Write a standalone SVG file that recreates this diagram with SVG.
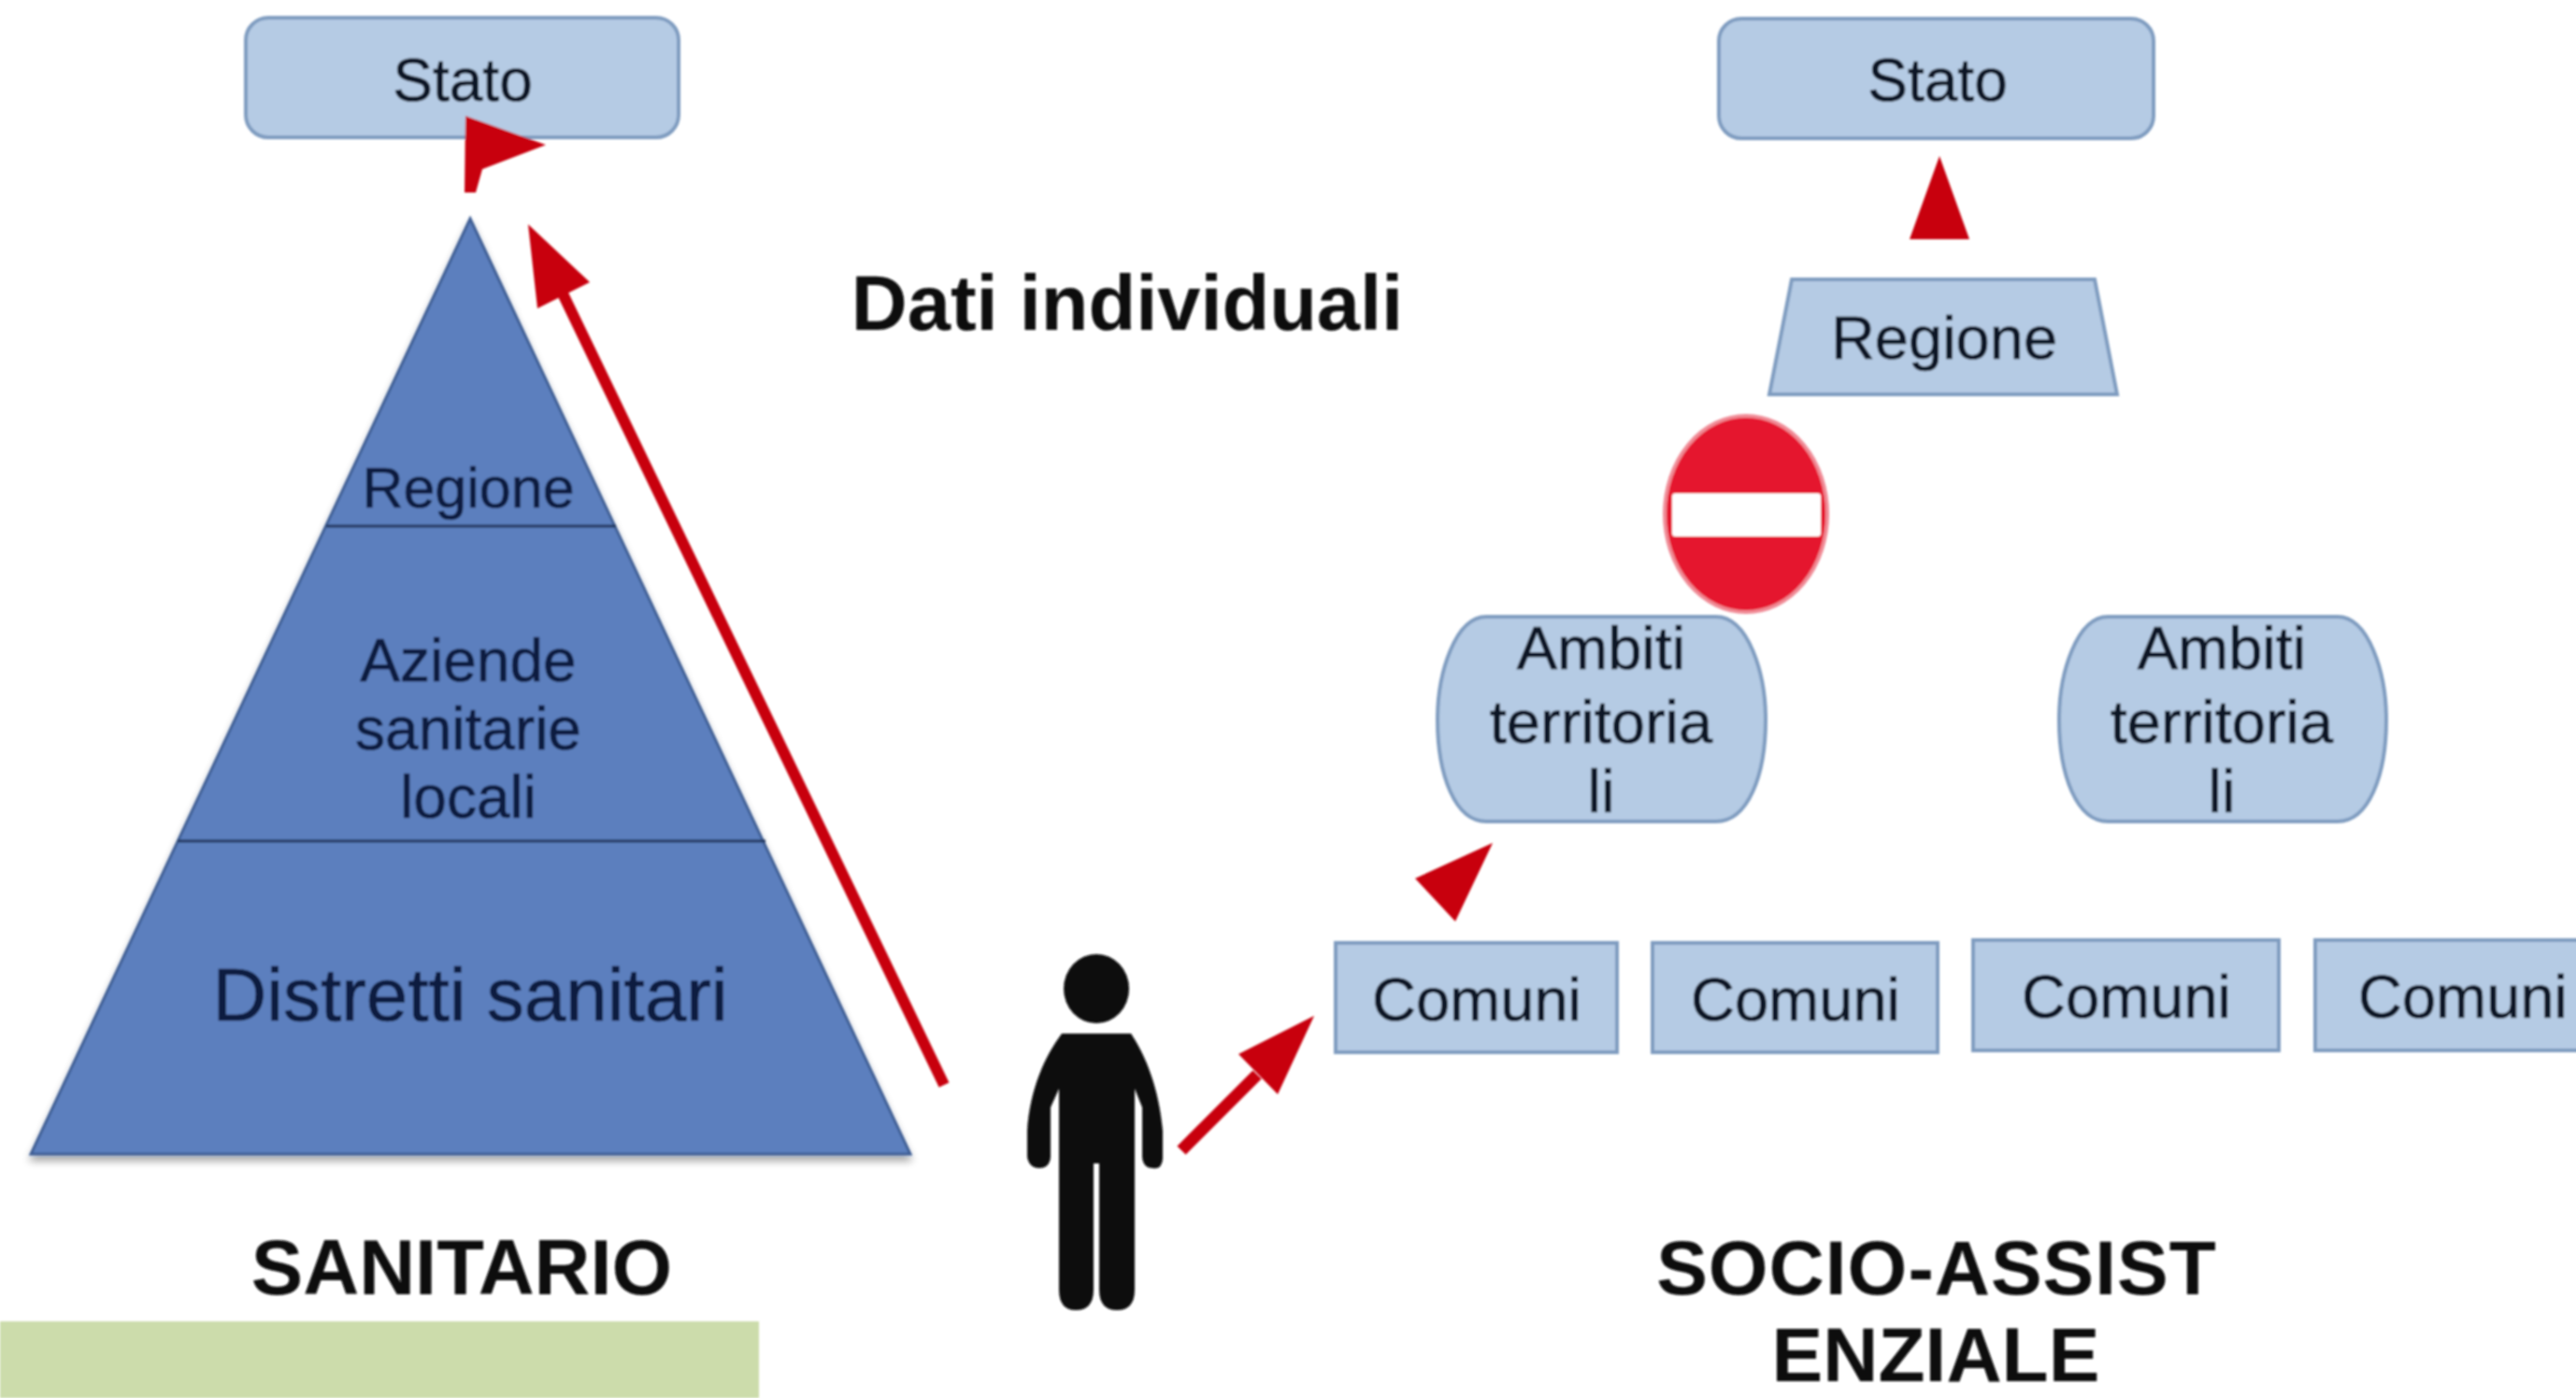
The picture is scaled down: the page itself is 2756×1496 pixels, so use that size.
<svg xmlns="http://www.w3.org/2000/svg" width="2756" height="1496" viewBox="0 0 2756 1496">
<defs>
<filter id="soft" x="-2%" y="-2%" width="104%" height="104%"><feGaussianBlur stdDeviation="1"/></filter>
<filter id="shadow" x="-5%" y="-5%" width="110%" height="115%"><feGaussianBlur in="SourceAlpha" stdDeviation="4"/><feOffset dy="6"/><feComponentTransfer><feFuncA type="linear" slope="0.35"/></feComponentTransfer><feMerge><feMergeNode/><feMergeNode in="SourceGraphic"/></feMerge></filter>
</defs>
<style>
text{font-family:"Liberation Sans",Arial,sans-serif;text-anchor:middle;fill:#0b1525;stroke:#0b1525;stroke-width:.7}
.t{font-size:64px}
.c{font-size:65px}
.b{font-size:83px;font-weight:bold;fill:#0a0a0a;stroke:none}
.p{fill:#0c1a40;stroke:#0c1a40}
.box{fill:#b5cbe4;stroke:#7f9cc0;stroke-width:4}
.red{fill:#c8000f;stroke:none}
.ln{stroke:#c8000f;fill:none}
.div{stroke:#20375f;stroke-width:3}
</style>
<rect width="2756" height="1496" fill="#fff"/>
<g filter="url(#soft)">
<g id="green-band"><rect x="0" y="1414" width="812" height="82" fill="#ccdcab"/></g>
<g id="stato-left"><rect class="box" x="263" y="19" width="463" height="128" rx="24"/><text class="t" x="495" y="108">Stato</text></g>
<g id="pyramid">
<polygon points="503,234 974,1235 33,1235" fill="#5b7fbe" stroke="#3f5f95" stroke-width="3" filter="url(#shadow)"/>
<line class="div" x1="349" y1="563" x2="659" y2="563"/>
<line class="div" x1="190" y1="900" x2="819" y2="900"/>
<text class="p" x="501" y="543" font-size="61">Regione</text>
<text class="p" x="501" y="729" font-size="64">Aziende</text>
<text class="p" x="501" y="802" font-size="64">sanitarie</text>
<text class="p" x="501" y="875" font-size="64">locali</text>
<text class="p" x="503" y="1092" font-size="80">Distretti sanitari</text>
</g>
<g id="dati"><text class="b" x="1206" y="353">Dati individuali</text></g>
<g id="label-sanitario"><text class="b" x="494" y="1385">SANITARIO</text></g>
<g id="person" fill="#0a0a0a">
<ellipse cx="1173" cy="1058" rx="35" ry="37"/>
<path d="M1136,1106H1210C1226,1130 1240,1165 1244,1210V1240Q1243,1252 1233,1250Q1223,1250 1222,1238V1185L1214,1165V1380Q1214,1402 1195,1402Q1176,1402 1176,1380V1245H1170V1380Q1170,1402 1151,1402Q1133,1402 1133,1380V1165L1124,1185V1238Q1123,1250 1112,1250Q1101,1250 1099,1238V1210C1102,1165 1118,1130 1136,1106Z"/>
</g>
<g id="stato-right"><rect class="box" x="1839" y="20" width="465" height="128" rx="24"/><text class="t" x="2073" y="108">Stato</text></g>
<g id="regione-right"><polygon class="box" points="1917,299 2241,299 2265,422 1893,422"/><text class="t" x="2080" y="384" style="font-size:65px">Regione</text></g>
<g id="no-entry"><ellipse cx="1868" cy="550" rx="87" ry="105" fill="#e5132d" stroke="#f08a95" stroke-width="4"/><rect x="1789" y="528" width="159" height="46" rx="3" fill="#fff"/></g>
<g id="ambiti-1"><path class="box" d="M1590,660H1836C1870,660 1889,720 1889,770C1889,830 1870,879 1836,879H1590C1557,879 1538,830 1538,770C1538,720 1557,660 1590,660Z"/><text class="c" x="1713" y="716">Ambiti</text><text class="c" x="1713" y="795">territoria</text><text class="c" x="1713" y="869">li</text></g>
<g id="ambiti-2"><path class="box" d="M2255,660H2501C2534,660 2553,720 2553,770C2553,830 2534,879 2501,879H2255C2222,879 2203,830 2203,770C2203,720 2222,660 2255,660Z"/><text class="c" x="2377" y="716">Ambiti</text><text class="c" x="2377" y="795">territoria</text><text class="c" x="2377" y="869">li</text></g>
<g id="comuni-1"><rect class="box" x="1429" y="1009" width="301" height="117"/><text class="c" x="1580" y="1092">Comuni</text></g>
<g id="comuni-2"><rect class="box" x="1768" y="1009" width="305" height="117"/><text class="c" x="1921" y="1092">Comuni</text></g>
<g id="comuni-3"><rect class="box" x="2111" y="1006" width="327" height="118"/><text class="c" x="2275" y="1089">Comuni</text></g>
<g id="comuni-4"><rect class="box" x="2477" y="1006" width="285" height="118"/><text class="c" x="2635" y="1089">Comuni</text></g>
<g id="label-socio"><text class="b" x="2072" y="1385" style="font-size:82px" letter-spacing="1">SOCIO-ASSIST</text><text class="b" x="2071" y="1478" style="font-size:82px">ENZIALE</text></g>
<g id="connectors">
<path class="red" d="M498,124L584,155L516,181L509,206H497Z"/>
<line class="ln" x1="1010" y1="1161" x2="600" y2="310" stroke-width="12"/>
<polygon class="red" points="565,240 631,302 575,330"/>
<line class="ln" x1="1264" y1="1231" x2="1345" y2="1150" stroke-width="13"/>
<polygon class="red" points="1406,1087 1325,1128 1367,1171"/>
<polygon class="red" points="2075,167 2043,256 2107,256"/>
<polygon class="red" points="1597,902 1514,940 1557,986"/>
</g>
</g>
</svg>
